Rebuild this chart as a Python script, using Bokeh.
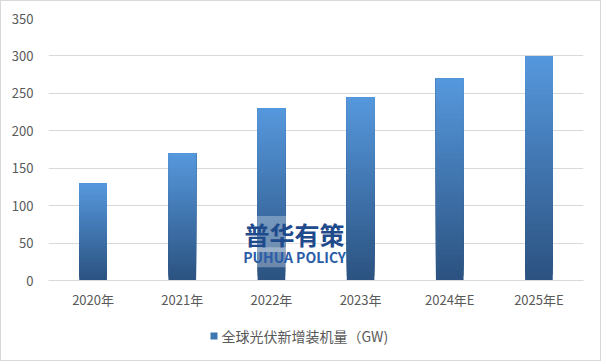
from bokeh.plotting import figure
from bokeh.models import Range1d, FixedTicker
from bokeh.layouts import column
from bokeh.embed import file_html
from bokeh.resources import INLINE
from bokeh.core.properties import value

categories = ["2020年", "2021年", "2022年", "2023年", "2024年E", "2025年E"]
values = [130, 170, 230, 245, 270, 300]
series_name = "全球光伏新增装机量（GW)"
y_ticks = [0, 50, 100, 150, 200, 250, 300, 350]

FONT = "Noto Sans CJK SC"
TOP = (86, 152, 221)
BOT = (43, 82, 128)

def mix(t):
    c = [round(BOT[i] + (TOP[i] - BOT[i]) * t) for i in range(3)]
    return "#%02x%02x%02x" % tuple(c)

p = figure(width=599, height=310, output_backend="svg", toolbar_location=None,
           x_range=Range1d(0, len(categories)), y_range=Range1d(0, 350),
           min_border_left=47, min_border_right=17, min_border_top=17, min_border_bottom=30)
p.outline_line_color = None
p.background_fill_color = "white"
p.border_fill_color = "white"

# gradient bars: overlapping stacked slices (each slice runs to the bar top)
N = 40
lefts, rights, bottoms, tops, colors = [], [], [], [], []
for i, v in enumerate(values):
    for k in range(N):
        lefts.append(i + 0.5 - 0.155)
        rights.append(i + 0.5 + 0.155)
        bottoms.append(v * k / N)
        tops.append(v)
        colors.append(mix((k + 0.5) / N))
p.quad(left=lefts, right=rights, bottom=bottoms, top=tops, fill_color=colors, line_color=None)

p.xgrid.visible = False
p.ygrid.grid_line_color = "#d9d9d9"
p.ygrid.ticker = FixedTicker(ticks=y_ticks)

p.yaxis.ticker = FixedTicker(ticks=y_ticks)
p.yaxis.axis_line_color = None
p.yaxis.major_tick_line_color = None
p.yaxis.minor_tick_line_color = None
p.yaxis.major_label_text_color = "#595959"
p.yaxis.major_label_text_font = FONT
p.yaxis.major_label_text_font_size = "13px"
p.yaxis.major_label_standoff = 9

p.xaxis.ticker = FixedTicker(ticks=[i + 0.5 for i in range(len(categories))])
p.xaxis.major_label_overrides = {i + 0.5: c for i, c in enumerate(categories)}
p.xaxis.axis_line_color = "#d9d9d9"
p.xaxis.major_tick_line_color = None
p.xaxis.minor_tick_line_color = None
p.xaxis.major_tick_out = 0
p.xaxis.major_tick_in = 0
p.xaxis.major_label_text_color = "#595959"
p.xaxis.major_label_text_font = FONT
p.xaxis.major_label_text_font_size = "13px"
p.xaxis.major_label_standoff = 9

# watermark
p.text(x=[2.76], y=[62], text=["普华有策"], text_font=value(FONT), text_font_style="bold",
       text_font_size="25px", text_color="#1f4a8c", text_align="center", text_baseline="middle",
       background_fill_color="white", background_fill_alpha=0.3)
p.text(x=[2.76], y=[31], text=["PUHUA POLICY"], text_font=value(FONT), text_font_style="bold",
       text_font_size="14px", text_color="#2a5ca8", text_align="center", text_baseline="middle",
       background_fill_color="white", background_fill_alpha=0.3)

# legend strip; its frame is aligned with the main frame (page x 48..583)
lg = figure(width=599, height=49, output_backend="svg", toolbar_location=None,
            x_range=Range1d(48, 583), y_range=Range1d(0, 49),
            min_border_left=47, min_border_right=17, min_border_top=0, min_border_bottom=0,
            x_axis_location=None, y_axis_location=None)
lg.outline_line_color = None
lg.xgrid.visible = False
lg.ygrid.visible = False
lg.quad(left=[210], right=[217], bottom=[21], top=[28], fill_color="#3f76b2", line_color=None)
lg.text(x=[221], y=[25], text=[series_name], text_font=value(FONT), text_font_size="14px",
        text_color="#595959", text_align="left", text_baseline="middle")

layout = column(p, lg, spacing=0)
layout.styles = {"border": "1px solid #d9d9d9"}

open("out.html", "w").write(file_html(layout, INLINE))
